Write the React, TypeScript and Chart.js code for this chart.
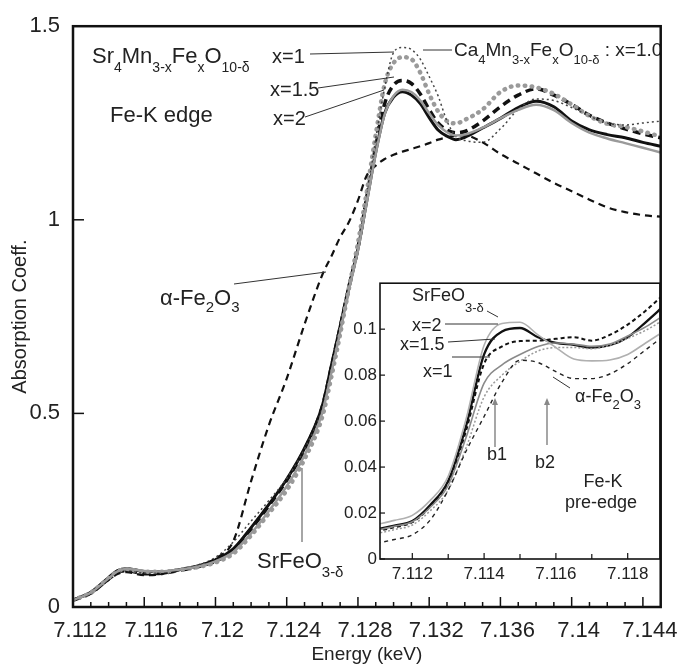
import React, { useEffect, useRef } from 'react';
import { Chart, registerables } from 'chart.js';

Chart.register(...registerables);

const FONT = '"Liberation Sans", Arial, Helvetica, sans-serif';
const TXT = '#222';

// ---------- main panel data ----------
const MAIN_E = [7.112, 7.113, 7.114, 7.1145, 7.115, 7.116, 7.117, 7.118, 7.119, 7.12,
  7.121, 7.122, 7.123, 7.124, 7.125, 7.126, 7.1265, 7.127, 7.1275, 7.128,
  7.1285, 7.129, 7.1295, 7.13, 7.1305, 7.131, 7.1315, 7.132, 7.1325, 7.133,
  7.1335, 7.134, 7.135, 7.136, 7.137, 7.138, 7.139, 7.14, 7.141, 7.142,
  7.143, 7.144, 7.145];

const MAIN_X2 = [0.018, 0.038, 0.076, 0.094, 0.099, 0.092, 0.091, 0.097, 0.106, 0.122,
  0.150, 0.205, 0.265, 0.330, 0.410, 0.520, 0.622, 0.725, 0.830, 0.925,
  1.050, 1.175, 1.275, 1.317, 1.331, 1.322, 1.300, 1.264, 1.232, 1.216,
  1.207, 1.213, 1.237, 1.262, 1.290, 1.306, 1.292, 1.255, 1.232, 1.220,
  1.212, 1.200, 1.190];

const MAIN_SRFEO = [0.018, 0.037, 0.074, 0.092, 0.098, 0.093, 0.092, 0.097, 0.104, 0.118,
  0.142, 0.190, 0.248, 0.312, 0.392, 0.502, 0.603, 0.710, 0.820, 0.920,
  1.045, 1.170, 1.272, 1.320, 1.336, 1.330, 1.308, 1.275, 1.245, 1.226,
  1.218, 1.220, 1.238, 1.262, 1.284, 1.297, 1.283, 1.250, 1.225, 1.210,
  1.198, 1.186, 1.174];

const MAIN_X15 = [0.017, 0.036, 0.072, 0.089, 0.094, 0.086, 0.087, 0.095, 0.104, 0.118,
  0.147, 0.202, 0.262, 0.327, 0.407, 0.518, 0.618, 0.722, 0.828, 0.928,
  1.060, 1.190, 1.300, 1.348, 1.360, 1.352, 1.325, 1.285, 1.250, 1.232,
  1.225, 1.228, 1.255, 1.292, 1.322, 1.338, 1.322, 1.298, 1.270, 1.250,
  1.235, 1.222, 1.212];

const MAIN_X1 = [0.018, 0.037, 0.074, 0.092, 0.097, 0.091, 0.091, 0.096, 0.103, 0.115,
  0.138, 0.185, 0.242, 0.302, 0.382, 0.492, 0.593, 0.705, 0.825, 0.940,
  1.074, 1.220, 1.350, 1.405, 1.420, 1.415, 1.380, 1.325, 1.280, 1.255,
  1.249, 1.258, 1.285, 1.330, 1.347, 1.342, 1.325, 1.298, 1.268, 1.248,
  1.240, 1.228, 1.215];

const MAIN_CA4 = [0.016, 0.035, 0.070, 0.088, 0.093, 0.088, 0.089, 0.097, 0.108, 0.128,
  0.168, 0.222, 0.275, 0.332, 0.408, 0.513, 0.603, 0.705, 0.815, 0.925,
  1.060, 1.210, 1.340, 1.432, 1.445, 1.440, 1.415, 1.370, 1.320, 1.255,
  1.215, 1.205, 1.200, 1.235, 1.285, 1.312, 1.308, 1.290, 1.268, 1.250,
  1.245, 1.250, 1.255];

const MAIN_AFE = [0.018, 0.035, 0.070, 0.085, 0.090, 0.082, 0.085, 0.095, 0.105, 0.125,
  0.170, 0.325, 0.470, 0.590, 0.730, 0.858, 0.905, 0.955, 0.995, 1.050,
  1.115, 1.140, 1.157, 1.168, 1.176, 1.183, 1.190, 1.198, 1.207, 1.213,
  1.217, 1.218, 1.200, 1.170, 1.145, 1.120, 1.095, 1.074, 1.052, 1.032,
  1.020, 1.012, 1.008];

const MAIN_X_TICKS = [7.112, 7.116, 7.12, 7.124, 7.128, 7.132, 7.136, 7.14, 7.144];
const MAIN_Y_TICKS = [0, 0.5, 1, 1.5];

// ---------- inset (pre-edge) data ----------
const INSET_E = [7.111, 7.1115, 7.112, 7.1125, 7.113, 7.1135, 7.114, 7.1145, 7.115,
  7.1155, 7.116, 7.1165, 7.117, 7.1175, 7.118, 7.1185, 7.119];

const INSET_X2 = [0.0130, 0.0145, 0.0165, 0.0235, 0.0340, 0.0580, 0.0890, 0.0990, 0.1005,
  0.0965, 0.0940, 0.0932, 0.0920, 0.0930, 0.0965, 0.1030, 0.1100];
const INSET_SRFEO = [0.0150, 0.0168, 0.0190, 0.0255, 0.0360, 0.0610, 0.0930, 0.1025, 0.1030,
  0.0975, 0.0920, 0.0870, 0.0862, 0.0866, 0.0890, 0.0940, 0.0990];
const INSET_X15 = [0.0120, 0.0138, 0.0160, 0.0228, 0.0330, 0.0560, 0.0850, 0.0925, 0.0948,
  0.0950, 0.0958, 0.0965, 0.0950, 0.0975, 0.1020, 0.1080, 0.1150];
const INSET_X1 = [0.0125, 0.0142, 0.0162, 0.0225, 0.0320, 0.0530, 0.0765, 0.0845, 0.0890,
  0.0925, 0.0940, 0.0935, 0.0925, 0.0935, 0.0970, 0.1010, 0.1060];
const INSET_CA4 = [0.0110, 0.0128, 0.0148, 0.0210, 0.0300, 0.0485, 0.0705, 0.0800, 0.0860,
  0.0905, 0.0920, 0.0920, 0.0915, 0.0930, 0.0960, 0.0995, 0.1040];
const INSET_AFE = [0.0068, 0.0085, 0.0105, 0.0170, 0.0300, 0.0470, 0.0620, 0.0770, 0.0865,
  0.0855, 0.0815, 0.0785, 0.0785, 0.0805, 0.0850, 0.0910, 0.0970];

const INSET_X_TICKS = [7.112, 7.114, 7.116, 7.118];
const INSET_Y_TICKS = [0, 0.02, 0.04, 0.06, 0.08, 0.1];

// ---------- helpers ----------
const pts = (xs: number[], ys: number[]) => xs.map((x, i) => ({ x, y: ys[i] }));
const fmt = (v: number) => String(parseFloat(Number(v).toFixed(4)));

type Run = [string, boolean];
function drawRich(ctx: CanvasRenderingContext2D, x: number, y: number, runs: Run[], size: number, subSize: number, dy: number) {
  let cx = x;
  for (const [t, sub] of runs) {
    ctx.font = `${sub ? subSize : size}px ${FONT}`;
    ctx.fillText(t, cx, sub ? y + dy : y);
    cx += ctx.measureText(t).width;
  }
}
function seg(ctx: CanvasRenderingContext2D, x1: number, y1: number, x2: number, y2: number, color = '#333', w = 1) {
  ctx.save();
  ctx.strokeStyle = color;
  ctx.lineWidth = w;
  ctx.setLineDash([]);
  ctx.beginPath();
  ctx.moveTo(x1, y1);
  ctx.lineTo(x2, y2);
  ctx.stroke();
  ctx.restore();
}
function text(ctx: CanvasRenderingContext2D, s: string, x: number, y: number, size: number, align: CanvasTextAlign = 'left') {
  ctx.font = `${size}px ${FONT}`;
  ctx.textAlign = align;
  ctx.fillText(s, x, y);
  ctx.textAlign = 'left';
}

function ds(label: string, xs: number[], ys: number[], color: string, width: number, dash: number[] = [], cap: CanvasLineCap = 'butt') {
  return {
    label,
    data: pts(xs, ys),
    borderColor: color,
    borderWidth: width,
    borderDash: dash,
    borderCapStyle: cap,
    pointRadius: 0,
    fill: false,
    cubicInterpolationMode: 'monotone' as const,
  };
}

// ---------- main plugins ----------
const mainFrame = {
  id: 'mainFrame',
  afterDraw(chart: any) {
    const { ctx, chartArea: a, scales } = chart;
    const xs = scales.x, ys = scales.y;
    ctx.save();
    ctx.strokeStyle = '#111';
    ctx.setLineDash([]);
    ctx.lineWidth = 1.5;
    for (let i = 0; i <= 32; i++) {
      const v = 7.112 + i * 0.001;
      const px = xs.getPixelForValue(v);
      const len = i % 4 === 0 ? 10 : 5;
      ctx.beginPath();
      ctx.moveTo(px, a.bottom);
      ctx.lineTo(px, a.bottom - len);
      ctx.stroke();
    }
    for (const v of MAIN_Y_TICKS) {
      const py = ys.getPixelForValue(v);
      ctx.beginPath();
      ctx.moveTo(a.left, py);
      ctx.lineTo(a.left + 11, py);
      ctx.stroke();
    }
    ctx.lineWidth = 2.5;
    ctx.strokeRect(a.left, a.top, a.right - a.left, a.bottom - a.top);
    ctx.restore();
  },
};

const mainNotes = {
  id: 'mainNotes',
  afterDatasetsDraw(chart: any) {
    const { ctx, chartArea: a } = chart;
    ctx.save();
    ctx.fillStyle = TXT;
    ctx.textBaseline = 'alphabetic';
    drawRich(ctx, 92, 63, [['Sr', false], ['4', true], ['Mn', false], ['3-x', true], ['Fe', false], ['x', true], ['O', false], ['10-δ', true]], 22, 14, 9);
    text(ctx, 'Fe-K edge', 110, 122, 22);
    text(ctx, 'x=1', 272, 63, 20);
    seg(ctx, 310, 54, 394, 52);
    text(ctx, 'x=1.5', 270, 96, 20);
    seg(ctx, 318, 88, 394, 77);
    text(ctx, 'x=2', 273, 125, 20);
    seg(ctx, 305, 117, 384, 90);
    ctx.save();
    ctx.beginPath();
    ctx.rect(a.left, a.top, a.right - a.left, a.bottom - a.top);
    ctx.clip();
    drawRich(ctx, 454, 56, [['Ca', false], ['4', true], ['Mn', false], ['3-x', true], ['Fe', false], ['x', true], ['O', false], ['10-δ', true], [' : x=1.0', false]], 19, 13, 8);
    ctx.restore();
    seg(ctx, 423, 50, 452, 50);
    drawRich(ctx, 160, 305, [['α-Fe', false], ['2', true], ['O', false], ['3', true]], 22, 15, 7);
    seg(ctx, 234, 284, 326, 272);
    drawRich(ctx, 257, 568, [['SrFeO', false], ['3-δ', true]], 22, 15, 9);
    seg(ctx, 302, 468, 302, 542, '#888', 1.5);
    ctx.restore();
  },
};

// ---------- inset plugins ----------
const OX = 320, OY = 270;
const insetFrame = {
  id: 'insetFrame',
  afterDraw(chart: any) {
    const { ctx, chartArea: a, scales } = chart;
    const xs = scales.x, ys = scales.y;
    ctx.save();
    ctx.strokeStyle = '#111';
    ctx.lineWidth = 1.2;
    for (let i = 0; i <= 7; i++) {
      const v = 7.111 + i * 0.001;
      const px = xs.getPixelForValue(v);
      if (px <= a.left + 1 || px >= a.right - 1) continue;
      ctx.beginPath();
      ctx.moveTo(px, a.bottom);
      ctx.lineTo(px, a.bottom - (i % 2 === 1 ? 6 : 5));
      ctx.stroke();
    }
    for (const v of INSET_Y_TICKS) {
      const py = ys.getPixelForValue(v);
      ctx.beginPath();
      ctx.moveTo(a.left, py);
      ctx.lineTo(a.left + 5, py);
      ctx.stroke();
    }
    ctx.lineWidth = 1.6;
    ctx.strokeRect(a.left, a.top, a.right - a.left, a.bottom - a.top);
    ctx.restore();
  },
};

function arrow(ctx: CanvasRenderingContext2D, x: number, yTip: number, yEnd: number) {
  seg(ctx, x, yTip + 5, x, yEnd, '#777', 1.3);
  ctx.save();
  ctx.fillStyle = '#888';
  ctx.beginPath();
  ctx.moveTo(x, yTip);
  ctx.lineTo(x - 3, yTip + 7);
  ctx.lineTo(x + 3, yTip + 7);
  ctx.closePath();
  ctx.fill();
  ctx.restore();
}

const insetNotes = {
  id: 'insetNotes',
  afterDatasetsDraw(chart: any) {
    const { ctx } = chart;
    ctx.save();
    ctx.translate(-OX, -OY);
    ctx.fillStyle = TXT;
    ctx.textBaseline = 'alphabetic';
    drawRich(ctx, 412, 301, [['SrFeO', false], ['3-δ', true]], 18, 13, 11);
    seg(ctx, 487, 311, 498, 317);
    text(ctx, 'x=2', 412, 331, 18);
    seg(ctx, 445, 324, 498, 324);
    text(ctx, 'x=1.5', 400, 350, 18);
    seg(ctx, 448, 342, 495, 339);
    text(ctx, 'x=1', 423, 377, 18);
    seg(ctx, 452, 357, 490, 357);
    drawRich(ctx, 575, 402, [['α-Fe', false], ['2', true], ['O', false], ['3', true]], 18, 13, 7);
    seg(ctx, 570, 388, 553, 377);
    arrow(ctx, 495, 398, 447);
    arrow(ctx, 547, 398, 445);
    ctx.fillStyle = TXT;
    text(ctx, 'b1', 497, 460, 18, 'center');
    text(ctx, 'b2', 545, 468, 18, 'center');
    text(ctx, 'Fe-K', 603, 487, 18, 'center');
    text(ctx, 'pre-edge', 601, 508, 18, 'center');
    ctx.restore();
  },
};

function mainConfig(): any {
  return {
    type: 'line',
    data: {
      datasets: [
        ds('SrFeO3-δ', MAIN_E, MAIN_SRFEO, '#9a9a9a', 2.5),
        ds('α-Fe2O3', MAIN_E, MAIN_AFE, '#111', 2.2, [7, 5]),
        ds('Ca4Mn3-xFexO10-δ x=1.0', MAIN_E, MAIN_CA4, '#444', 1.5, [2, 3]),
        ds('x=1', MAIN_E, MAIN_X1, '#9a9a9a', 4.5, [0.5, 6.5], 'round'),
        ds('x=1.5', MAIN_E, MAIN_X15, '#111', 3.5, [8, 5]),
        ds('x=2', MAIN_E, MAIN_X2, '#111', 3),
      ],
    },
    options: {
      responsive: false,
      animation: false,
      devicePixelRatio: 1,
      layout: { padding: { left: 0, top: 20, right: 19, bottom: 0 } },
      plugins: { legend: { display: false }, tooltip: { enabled: false } },
      scales: {
        x: {
          type: 'linear',
          min: 7.112,
          max: 7.145,
          afterBuildTicks: (s: any) => { s.ticks = MAIN_X_TICKS.map((v) => ({ value: v })); },
          afterFit: (s: any) => { s.height = 61; },
          grid: { display: false, drawTicks: false },
          border: { display: false },
          ticks: {
            callback: (v: any) => fmt(v),
            font: { family: FONT, size: 22 },
            color: TXT,
            padding: 11,
            labelOffset: 7,
            maxRotation: 0,
            autoSkip: false,
          },
          title: {
            display: true,
            text: 'Energy (keV)',
            font: { family: FONT, size: 19 },
            color: TXT,
            padding: { top: 0, bottom: 2 },
          },
        },
        y: {
          type: 'linear',
          min: 0,
          max: 1.5,
          afterBuildTicks: (s: any) => { s.ticks = MAIN_Y_TICKS.map((v) => ({ value: v })); },
          afterFit: (s: any) => { s.width = 73; },
          grid: { display: false, drawTicks: false },
          border: { display: false },
          ticks: {
            callback: (v: any) => fmt(v),
            font: { family: FONT, size: 22 },
            color: TXT,
            padding: 13,
          },
          title: {
            display: true,
            text: 'Absorption Coeff.',
            font: { family: FONT, size: 20 },
            color: TXT,
            padding: { top: 8, bottom: 0 },
          },
        },
      },
    },
    plugins: [mainNotes, mainFrame],
  };
}

function insetConfig(): any {
  return {
    type: 'line',
    data: {
      datasets: [
        ds('SrFeO3-δ', INSET_E, INSET_SRFEO, '#b0b0b0', 1.6),
        ds('α-Fe2O3', INSET_E, INSET_AFE, '#222', 1.4, [4, 4]),
        ds('Ca4', INSET_E, INSET_CA4, '#999', 1.5, [2, 2]),
        ds('x=1', INSET_E, INSET_X1, '#8a8a8a', 1.6),
        ds('x=1.5', INSET_E, INSET_X15, '#111', 2, [4, 3]),
        ds('x=2', INSET_E, INSET_X2, '#111', 2.3),
      ],
    },
    options: {
      responsive: false,
      animation: false,
      devicePixelRatio: 1,
      layout: { padding: { left: 0, top: 8, right: 5, bottom: 0 } },
      plugins: { legend: { display: false }, tooltip: { enabled: false } },
      scales: {
        x: {
          type: 'linear',
          min: 7.1111,
          max: 7.1189,
          afterBuildTicks: (s: any) => { s.ticks = INSET_X_TICKS.map((v) => ({ value: v })); },
          afterFit: (s: any) => { s.height = 31; },
          grid: { display: false, drawTicks: false },
          border: { display: false },
          ticks: {
            callback: (v: any) => fmt(v),
            font: { family: FONT, size: 17 },
            color: TXT,
            padding: 5,
            maxRotation: 0,
            autoSkip: false,
          },
        },
        y: {
          type: 'linear',
          min: 0,
          max: 0.12,
          afterBuildTicks: (s: any) => { s.ticks = INSET_Y_TICKS.map((v) => ({ value: v })); },
          afterFit: (s: any) => { s.width = 60; },
          grid: { display: false, drawTicks: false },
          border: { display: false },
          ticks: {
            callback: (v: any) => fmt(v),
            font: { family: FONT, size: 17 },
            color: TXT,
            padding: 3,
          },
        },
      },
    },
    plugins: [insetNotes, insetFrame],
  };
}

export default function App() {
  const mainRef = useRef<HTMLCanvasElement>(null);
  const insetRef = useRef<HTMLCanvasElement>(null);
  useEffect(() => {
    const c1 = new Chart(mainRef.current as HTMLCanvasElement, mainConfig());
    const c2 = new Chart(insetRef.current as HTMLCanvasElement, insetConfig());
    return () => {
      c1.destroy();
      c2.destroy();
    };
  }, []);
  return (
    <div style={{ position: 'fixed', left: 0, top: 0, width: 682, height: 668, background: '#fff' }}>
      <canvas ref={mainRef} width={682} height={668} style={{ position: 'absolute', left: 0, top: 0, width: 682, height: 668 }} />
      <canvas ref={insetRef} width={345} height={320} style={{ position: 'absolute', left: OX, top: OY, width: 345, height: 320 }} />
    </div>
  );
}
